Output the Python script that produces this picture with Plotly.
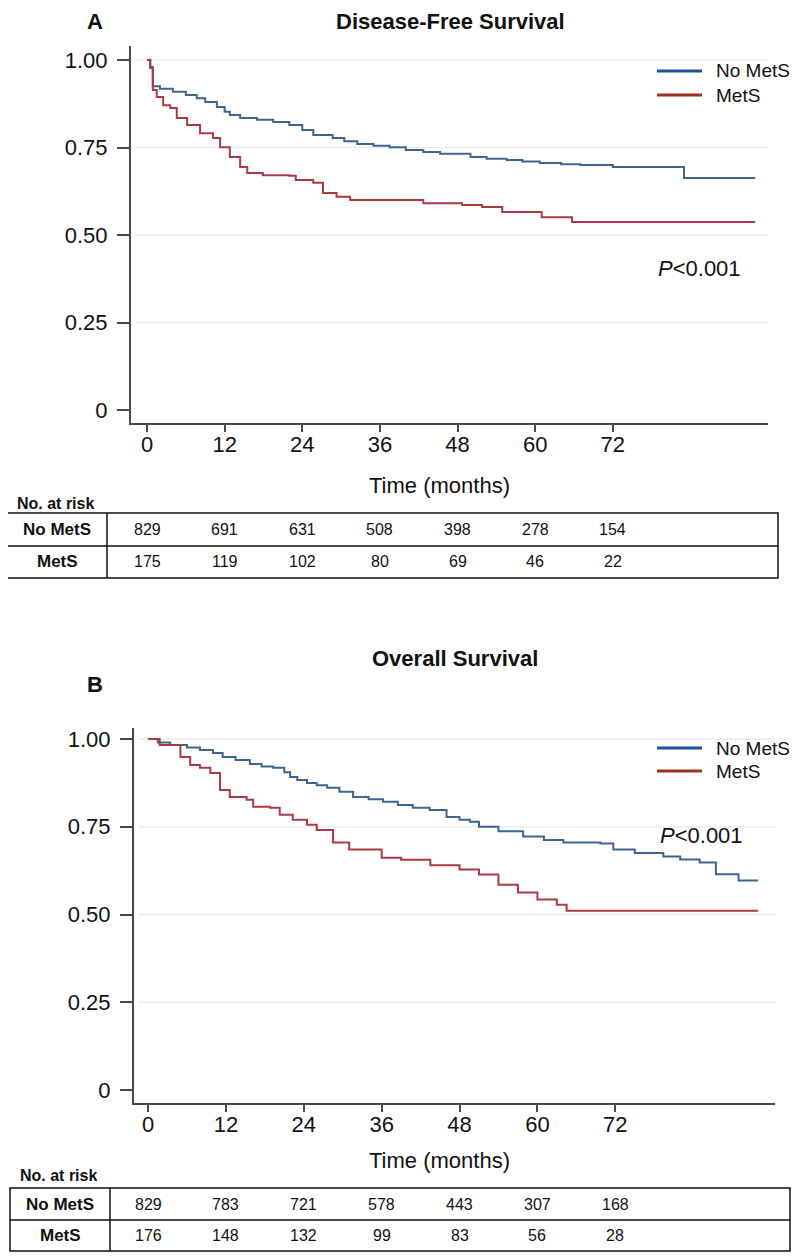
import plotly.graph_objects as go

# page has an 8px body margin; figure is sized/offset so it fills the 800x1257 window
OFF = 8
W, H = 800 - OFF, 1257 - OFF

# ---------------- data ----------------
months_ticks = [0, 12, 24, 36, 48, 60, 72]
groups = ["No MetS", "MetS"]

# Disease-free survival (panel A) step curves
dfs_nomets_t = [0, 0.5, 0.9, 2, 4, 6, 7.7, 9, 10.8, 12, 12.8, 14.4, 17, 19.5, 22, 24, 25.7,
                28.7, 30.5, 32.5, 35, 37.5, 40, 42.7, 45.3, 50, 52.5, 55.6, 58, 60.7, 64, 67,
                72, 83, 94]
dfs_nomets_s = [1.0, 0.98, 0.925, 0.918, 0.909, 0.90, 0.891, 0.88, 0.866, 0.852, 0.843, 0.834,
                0.829, 0.823, 0.814, 0.80, 0.786, 0.777, 0.768, 0.760, 0.755, 0.751, 0.743,
                0.737, 0.732, 0.723, 0.718, 0.714, 0.71, 0.706, 0.702, 0.70, 0.694, 0.663, 0.663]
dfs_mets_t = [0, 0.5, 0.9, 1.5, 2.5, 3.6, 4.6, 6.2, 8.2, 10.2, 11.3, 12.8, 14.4, 15.5, 17.9,
              22, 23, 25.7, 27.2, 29.3, 31.4, 42.7, 48.7, 51.8, 54.9, 61, 65.7, 94]
dfs_mets_s = [1.0, 0.977, 0.914, 0.894, 0.871, 0.863, 0.834, 0.814, 0.791, 0.777, 0.751, 0.723,
              0.694, 0.677, 0.671, 0.669, 0.657, 0.649, 0.620, 0.609, 0.600, 0.591, 0.586,
              0.580, 0.566, 0.551, 0.537, 0.537]

# Overall survival (panel B) step curves
os_nomets_t = [0, 1.5, 3.4, 6, 8, 10, 11.5, 13.5, 15.7, 17.5, 19.3, 21, 21.9, 23, 24.5, 26,
               27.6, 29.5, 31.6, 34, 36.2, 38.5, 40.8, 43.4, 46, 48, 49.6, 51, 54, 57.8, 61,
               64, 69.7, 71.7, 75, 79.4, 82, 85, 87.5, 91, 94]
os_nomets_s = [1.0, 0.99, 0.983, 0.976, 0.969, 0.96, 0.949, 0.94, 0.929, 0.922, 0.918, 0.905,
               0.892, 0.883, 0.875, 0.868, 0.861, 0.85, 0.835, 0.828, 0.821, 0.812, 0.804,
               0.798, 0.778, 0.77, 0.764, 0.75, 0.737, 0.722, 0.712, 0.705, 0.702, 0.685,
               0.675, 0.665, 0.657, 0.648, 0.615, 0.597, 0.597]
os_mets_t = [0, 1.8, 5, 6.5, 8, 9.6, 11.1, 12.6, 15.2, 16.2, 18.8, 20.3, 22.3, 24.5, 26, 28.5,
             31, 36, 39, 43.5, 48, 51, 54, 57, 60, 63, 64.5, 94]
os_mets_s = [1.0, 0.983, 0.949, 0.926, 0.918, 0.903, 0.855, 0.835, 0.827, 0.807, 0.804, 0.784,
             0.77, 0.756, 0.741, 0.705, 0.685, 0.662, 0.656, 0.64, 0.628, 0.614, 0.585, 0.563,
             0.543, 0.528, 0.511, 0.511]

# numbers at risk
risk_dfs_nomets = [829, 691, 631, 508, 398, 278, 154]
risk_dfs_mets = [175, 119, 102, 80, 69, 46, 22]
risk_os_nomets = [829, 783, 721, 578, 443, 307, 168]
risk_os_mets = [176, 148, 132, 99, 83, 56, 28]

y_ticks = [0, 0.25, 0.5, 0.75, 1.0]
y_ticktext = ["0", "0.25", "0.50", "0.75", "1.00"]
grid_vals = [0.25, 0.5, 0.75, 1.0]

# ---------------- style ----------------
BLUE = "#3f6491"
RED = "#ab3a44"
LEG_BLUE = "#1f4f9e"
LEG_RED = "#9c3322"
AXC = "#4a4a4a"
FONT = "Liberation Sans, Arial, sans-serif"


def px(x):
    return (x - OFF) / W


def py(y):
    return 1 - (y - OFF) / H


fig = go.Figure()

panels = [
    dict(xa="x", ya="y", data=[(dfs_nomets_t, dfs_nomets_s), (dfs_mets_t, dfs_mets_s)]),
    dict(xa="x2", ya="y2", data=[(os_nomets_t, os_nomets_s), (os_mets_t, os_mets_s)]),
]
colors = [BLUE, RED]
for p in panels:
    for gi, (t, s) in enumerate(p["data"]):
        fig.add_trace(go.Scatter(
            x=t, y=s, mode="lines", line=dict(color=colors[gi], width=2, shape="hv"),
            name=groups[gi], xaxis=p["xa"], yaxis=p["ya"], showlegend=False,
            hoverinfo="skip"))

axis_common = dict(showline=True, linecolor=AXC, linewidth=2, ticks="outside",
                   tickcolor=AXC, tickwidth=2, showgrid=False, zeroline=False,
                   tickfont=dict(family=FONT, size=22, color="#111"))
xaxis_extra = dict(tickvals=months_ticks, ticklen=7, ticklabelstandoff=-6)
yaxis_extra = dict(tickvals=y_ticks, ticktext=y_ticktext, ticklen=12, ticklabelstandoff=5)

# panel A geometry (pixel based)
xA0, xA1 = 131, 768
x0A, pxmA = 147, 6.47
yA_top, yA_bot = 46, 423
y1A, ppuA = 60, 350
# panel B geometry
xB0, xB1 = 134, 775
x0B, pxmB = 148, 6.49
yB_top, yB_bot = 728, 1103
y1B, ppuB = 739, 351

fig.update_layout(
    width=W, height=H, margin=dict(l=0, r=0, t=0, b=0),
    paper_bgcolor="white", plot_bgcolor="white",
    xaxis=dict(domain=[px(xA0), px(xA1)], anchor="y",
               range=[(xA0 - x0A) / pxmA, (xA1 - x0A) / pxmA],
               **xaxis_extra, **axis_common),
    yaxis=dict(domain=[py(yA_bot), py(yA_top)], anchor="x",
               range=[1 - (yA_bot - y1A) / ppuA, 1 - (yA_top - y1A) / ppuA],
               **yaxis_extra, **axis_common),
    xaxis2=dict(domain=[px(xB0), px(xB1)], anchor="y2",
                range=[(xB0 - x0B) / pxmB, (xB1 - x0B) / pxmB],
                **xaxis_extra, **axis_common),
    yaxis2=dict(domain=[py(yB_bot), py(yB_top)], anchor="x2",
                range=[1 - (yB_bot - y1B) / ppuB, 1 - (yB_top - y1B) / ppuB],
                **yaxis_extra, **axis_common),
    showlegend=False,
)

shapes = []
annotations = []

# grid lines
for ya, x0p, x1p in [("y", xA0 + 4, xA1), ("y2", xB0 + 4, xB1)]:
    for g in grid_vals:
        shapes.append(dict(type="line", xref="paper", yref=ya, x0=px(x0p), x1=px(x1p),
                           y0=g, y1=g, line=dict(color="#e3edf3", width=1.5), layer="below"))


def text(x, y, s, size, bold=False, xanchor="center"):
    if bold:
        s = "<b>" + s + "</b>"
    annotations.append(dict(x=px(x), y=py(y), xref="paper", yref="paper", text=s,
                            showarrow=False, xanchor=xanchor, yanchor="middle",
                            font=dict(family=FONT, size=size, color="#111")))


# legends (one per panel)
for ly in [(71, 95), (748, 771)]:
    for gi, yy in enumerate(ly):
        shapes.append(dict(type="line", xref="paper", yref="paper", x0=px(657), x1=px(702),
                           y0=py(yy), y1=py(yy),
                           line=dict(color=[LEG_BLUE, LEG_RED][gi], width=3)))
        text(714, yy, groups[gi], 19, xanchor="left")

# titles and labels
text(95, 22, "A", 22, bold=True)
text(450, 22, "Disease-Free Survival", 22, bold=True)
text(699, 268, "<i>P</i>&lt;0.001", 22)
text(440, 485, "Time (months)", 22)

text(95, 684, "B", 22, bold=True)
text(455, 658, "Overall Survival", 22, bold=True)
text(701, 835, "<i>P</i>&lt;0.001", 22)
text(440, 1160, "Time (months)", 22)

# risk tables
tables = [
    dict(xa="x", left=7, right=778, top=513, mid=546, bot=578, col=107, head=503,
         rows=[risk_dfs_nomets, risk_dfs_mets]),
    dict(xa="x2", left=10, right=790, top=1188, mid=1220, bot=1251, col=110, head=1175,
         rows=[risk_os_nomets, risk_os_mets]),
]
for tb in tables:
    ln = dict(color="#111", width=1.5)
    shapes.append(dict(type="rect", xref="paper", yref="paper", x0=px(tb["left"]),
                       x1=px(tb["right"]), y0=py(tb["bot"]), y1=py(tb["top"]), line=ln))
    shapes.append(dict(type="line", xref="paper", yref="paper", x0=px(tb["left"]),
                       x1=px(tb["right"]), y0=py(tb["mid"]), y1=py(tb["mid"]), line=ln))
    shapes.append(dict(type="line", xref="paper", yref="paper", x0=px(tb["col"]),
                       x1=px(tb["col"]), y0=py(tb["bot"]), y1=py(tb["top"]), line=ln))
    text(tb["left"] + 8, tb["head"], "No. at risk", 16, bold=True, xanchor="left")
    row_y = [(tb["top"] + tb["mid"]) / 2, (tb["mid"] + tb["bot"]) / 2]
    for ri, vals in enumerate(tb["rows"]):
        text((tb["left"] + tb["col"]) / 2, row_y[ri], groups[ri], 17, bold=True)
        for m, v in zip(months_ticks, vals):
            annotations.append(dict(x=m, y=py(row_y[ri]), xref=tb["xa"], yref="paper",
                                    text=str(v), showarrow=False, xanchor="center",
                                    yanchor="middle",
                                    font=dict(family=FONT, size=16, color="#111")))

fig.update_layout(shapes=shapes, annotations=annotations)
fig.write_html("out.html")
